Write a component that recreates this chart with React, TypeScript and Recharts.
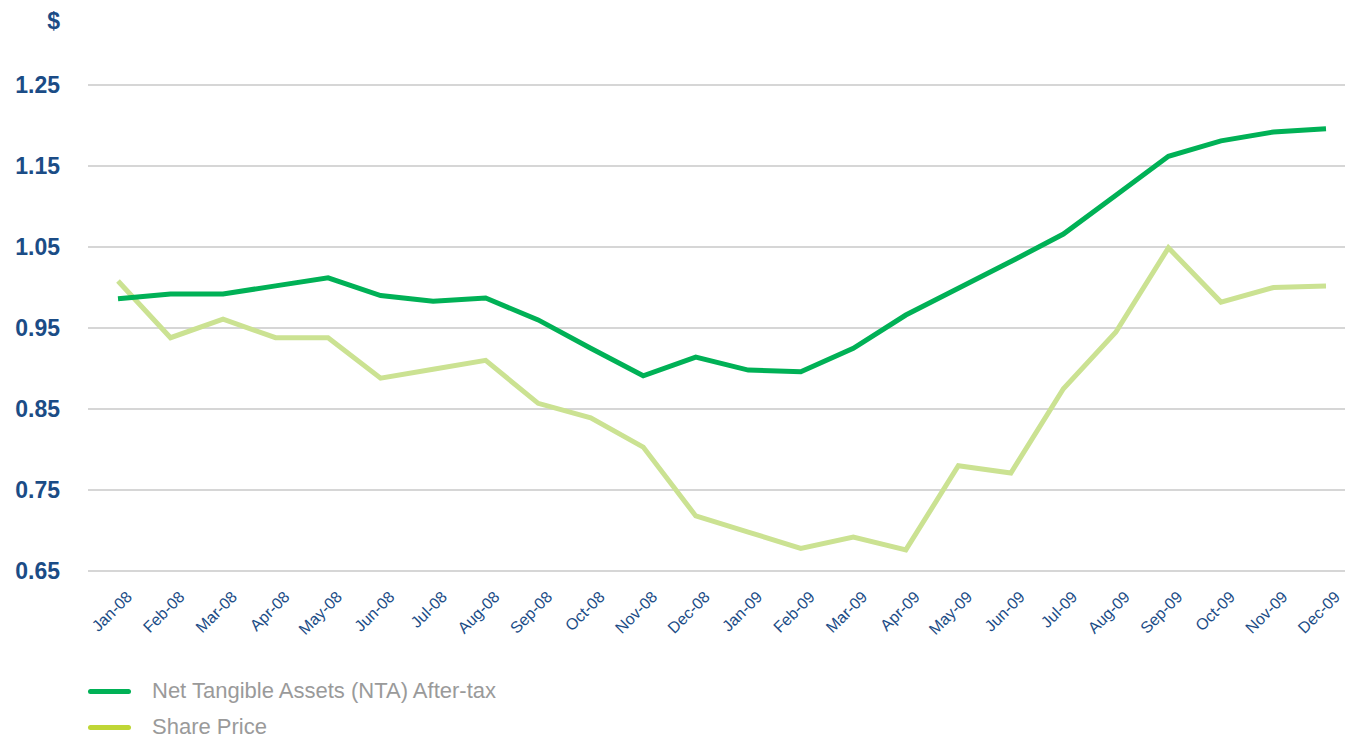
import React from 'react';
import { LineChart, Line, XAxis, YAxis, CartesianGrid } from 'recharts';

const months = [
    'Jan-08', 'Feb-08', 'Mar-08', 'Apr-08', 'May-08', 'Jun-08', 'Jul-08', 'Aug-08', 'Sep-08', 'Oct-08', 'Nov-08', 'Dec-08',
    'Jan-09', 'Feb-09', 'Mar-09', 'Apr-09', 'May-09', 'Jun-09', 'Jul-09', 'Aug-09', 'Sep-09', 'Oct-09', 'Nov-09', 'Dec-09',
];

const ntaAfterTax = [
    0.986, 0.992, 0.992, 1.002, 1.012, 0.990, 0.983, 0.987, 0.960, 0.925, 0.891, 0.914,
    0.898, 0.896, 0.925, 0.966, 0.999, 1.032, 1.066, 1.114, 1.162, 1.181, 1.192, 1.196,
];

const sharePrice = [
    1.008, 0.938, 0.961, 0.938, 0.938, 0.888, 0.899, 0.910, 0.857, 0.839, 0.803, 0.718,
    0.698, 0.678, 0.692, 0.676, 0.780, 0.771, 0.875, 0.945, 1.049, 0.982, 1.000, 1.002,
];

const yTicks = [0.65, 0.75, 0.85, 0.95, 1.05, 1.15, 1.25];

const legendItems = [
    { name: 'Net Tangible Assets (NTA) After-tax', color: '#00b156' },
    { name: 'Share Price', color: '#bfd636' },
];

const FONT = '"Liberation Sans", Arial, Helvetica, sans-serif';
const BLUE = '#1b4c86';

const data = months.map((m, i) => ({ month: m, nta: ntaAfterTax[i], price: sharePrice[i] }));

// rotated month labels, like the excel original
const XTick = (props: any) => {
    const { x, y, payload } = props;
    return (
        <g transform={`translate(${x + 15},${y + 19})`}>
            <text textAnchor="end" transform="rotate(-45)" fill={BLUE} fontSize={16} fontFamily={FONT}>
                {payload.value}
            </text>
        </g>
    );
};

const App: React.FC = () => {
    return (
        <div style={{ position: 'absolute', left: 0, top: 0, width: 1347, height: 738, background: '#fff', fontFamily: FONT }}>
            <div style={{ position: 'absolute', left: 0, width: 60, top: 8, textAlign: 'right', color: BLUE, fontWeight: 'bold', fontSize: 23 }}>
                $
            </div>
            <LineChart width={1347} height={738} data={data} margin={{ top: 85, right: 2, left: 0, bottom: 97 }}>
                <CartesianGrid vertical={false} stroke="#c8c8c8" strokeWidth={1.5} />
                <XAxis
                    dataKey="month"
                    height={70}
                    interval={0}
                    axisLine={false}
                    tickLine={false}
                    padding={{ left: 30, right: 19 }}
                    tick={<XTick />}
                />
                <YAxis
                    width={88}
                    domain={[0.65, 1.25]}
                    ticks={yTicks}
                    axisLine={false}
                    tickLine={false}
                    tickMargin={22}
                    tickFormatter={(v: number) => v.toFixed(2)}
                    tick={{ fill: BLUE, fontSize: 23, fontWeight: 'bold', fontFamily: FONT }}
                />
                <Line type="linear" dataKey="price" stroke="#cbe292" strokeWidth={5} dot={false} isAnimationActive={false} />
                <Line type="linear" dataKey="nta" stroke="#00b156" strokeWidth={5} dot={false} isAnimationActive={false} />
            </LineChart>
            {legendItems.map((item, i) => (
                <div key={item.name} style={{ position: 'absolute', left: 88, top: 680 + i * 36, height: 22, display: 'flex', alignItems: 'center' }}>
                    <div style={{ width: 43, height: 5, borderRadius: 3, background: item.color }} />
                    <span style={{ marginLeft: 21, fontSize: 22, color: '#9a9a9a', lineHeight: '22px' }}>{item.name}</span>
                </div>
            ))}
        </div>
    );
};

export default App;
